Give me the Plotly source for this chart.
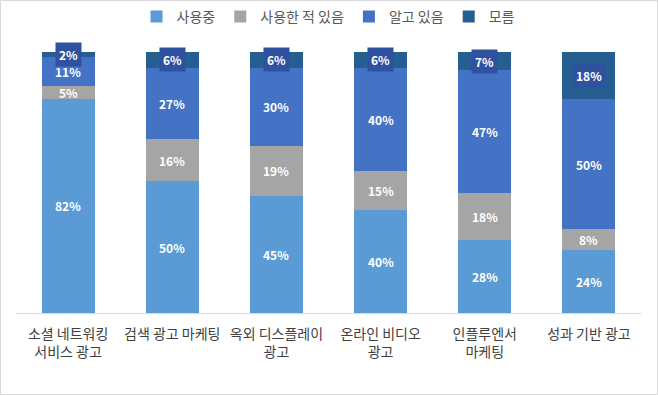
import plotly.graph_objects as go

categories = ["소셜 네트워킹<br>서비스 광고", "검색 광고 마케팅", "옥외 디스플레이<br>광고",
              "온라인 비디오<br>광고", "인플루엔서<br>마케팅", "성과 기반 광고"]
series_names = ["사용중", "사용한 적 있음", "알고 있음", "모름"]
using = [82, 50, 45, 40, 28, 24]
used_before = [5, 16, 19, 15, 18, 8]
aware = [11, 27, 30, 40, 47, 50]
unknown = [2, 6, 6, 6, 7, 18]
colors = ["#5B9BD5", "#A5A5A5", "#4472C4", "#255E91"]

values = [using, used_before, aware, unknown]

fig = go.Figure()
for name, vals, col in zip(series_names, values, colors):
    fig.add_trace(go.Bar(x=categories, y=vals, name=name, marker_color=col,
                         marker_line_width=0))

annotations = []
totals = [sum(v[i] for v in values) for i in range(len(categories))]
for i, cat in enumerate(categories):
    cum = 0
    for s, vals in enumerate(values):
        v = vals[i]
        mid = (cum + v / 2) / totals[i] * 100
        cum += v
        ann = dict(x=cat, y=mid, xref="x", yref="y", text=f"<b>{v}%</b>", showarrow=False,
                   font=dict(family="Noto Sans CJK KR", size=12, color="white"))
        if s == 3:
            ann.update(bgcolor="#2F52A0", borderpad=3)
        annotations.append(ann)

W, H = 658, 395
ml, mr, mt, mb = 16, 17, 52, 82
pw, ph = W - ml - mr, H - mt - mb

fig.update_layout(
    width=W, height=H,
    margin=dict(l=ml, r=mr, t=mt, b=mb, autoexpand=False),
    barmode="stack", barnorm="percent", bargap=0.49,
    paper_bgcolor="white", plot_bgcolor="white",
    font=dict(family="Noto Sans CJK KR", size=14, color="#404040"),
    legend=dict(orientation="h", x=0.5, xanchor="center", y=1 + 35 / ph, yanchor="middle",
                font=dict(size=14, color="#595959"), itemwidth=30, traceorder="normal"),
    xaxis=dict(showline=True, linecolor="#D9D9D9", linewidth=1, ticks="", showgrid=False,
               tickfont=dict(size=14, color="#404040"), fixedrange=True, automargin=False,
               ticklabelstandoff=8),
    yaxis=dict(visible=False, range=[0, 100], showgrid=False, fixedrange=True, automargin=False),
    annotations=annotations,
    shapes=[dict(type="rect", xref="paper", yref="paper",
                 x0=-(ml - 0.5) / pw, x1=1 + (mr - 0.5) / pw,
                 y0=-(mb - 0.5) / ph, y1=1 + (mt - 0.5) / ph,
                 line=dict(color="#D9D9D9", width=1))],
)

fig.write_html("out.html", config={"displayModeBar": False},
               post_script="document.body.style.margin='0';document.body.style.overflow='hidden';")
